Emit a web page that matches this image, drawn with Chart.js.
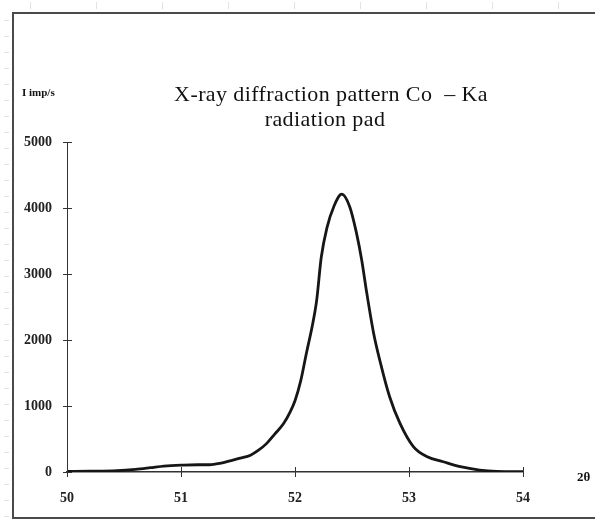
<!DOCTYPE html>
<html>
<head>
<meta charset="utf-8">
<script src="https://cdn.jsdelivr.net/npm/chart.js@4/dist/chart.umd.min.js"></script>
<style>
  body { margin: 0; background: #fff; }
  #wrap { width: 595px; height: 520px; }
</style>
</head>
<body>
<div id="wrap"><canvas id="xrd" width="595" height="520"></canvas></div>
<script>
// angles 2θ (deg) and intensity (imp/s)
var twoTheta = [50.00, 50.20, 50.44, 50.60, 50.73, 50.85, 51.02, 51.15, 51.25, 51.35, 51.43, 51.52, 51.61, 51.68, 51.75, 51.82, 51.90, 51.96, 52.00, 52.05, 52.10, 52.15, 52.19, 52.23, 52.28, 52.34, 52.41, 52.48, 52.54, 52.585, 52.63, 52.69, 52.75, 52.83, 52.92, 53.04, 53.16, 53.30, 53.45, 53.62, 53.77, 54.00];
var intensity = [10, 12, 20, 40, 65, 90, 105, 110, 110, 135, 170, 210, 255, 330, 430, 570, 735, 920, 1080, 1380, 1800, 2200, 2600, 3250, 3700, 4020, 4210, 4020, 3616, 3212, 2707, 2100, 1650, 1140, 740, 380, 230, 155, 80, 30, 10, 5];

var xTicks = [50, 51, 52, 53, 54];
var yTicks = [0, 1000, 2000, 3000, 4000, 5000];

var tituloLineas = ["X-ray diffraction pattern Co  \u2013 Ka", "radiation pad"];
var tituloEjeY = "I imp/s";
var tituloEjeX = "2\u03b8";

function armarPuntos(xs, ys) {
    var lista = [];
    for (var i = 0; i < xs.length; i++) {
        lista.push({ x: xs[i], y: ys[i] });
    }
    return lista;
}

// marco, titulo y marcas cruzadas de los ejes
var decoracion = {
    id: 'decoracion',
    beforeDraw: function (chart) {
        var ctx = chart.ctx;
        ctx.save();
        ctx.fillStyle = '#fff';
        ctx.fillRect(0, 0, chart.width, chart.height);
        // regla tenue
        ctx.strokeStyle = '#e2e2e2';
        ctx.lineWidth = 1;
        for (var x = 30; x < chart.width; x += 66) {
            ctx.beginPath(); ctx.moveTo(x + 0.5, 2); ctx.lineTo(x + 0.5, 9); ctx.stroke();
        }
        for (var y = 20; y < chart.height; y += 16) {
            ctx.beginPath(); ctx.moveTo(4, y + 0.5); ctx.lineTo(9, y + 0.5); ctx.stroke();
        }
        ctx.strokeStyle = '#4a4a4a';
        ctx.lineWidth = 2;
        ctx.strokeRect(13, 13, 620, 505);
        ctx.restore();
    },
    afterDraw: function (chart) {
        var ctx = chart.ctx;
        var sx = chart.scales.x, sy = chart.scales.y;
        ctx.save();
        ctx.strokeStyle = '#333';
        ctx.lineWidth = 1;
        yTicks.forEach(function (v) {
            var py = Math.round(sy.getPixelForValue(v)) + 0.5;
            ctx.beginPath(); ctx.moveTo(sx.left - 4, py); ctx.lineTo(sx.left + 5, py); ctx.stroke();
        });
        xTicks.forEach(function (v) {
            var px = Math.round(sx.getPixelForValue(v)) + 0.5;
            ctx.beginPath(); ctx.moveTo(px, sy.bottom - 5); ctx.lineTo(px, sy.bottom + 5); ctx.stroke();
        });
        ctx.fillStyle = '#111';
        ctx.textBaseline = 'middle';
        ctx.textAlign = 'center';
        ctx.font = '22px "Liberation Serif"';
        ctx.letterSpacing = '0.4px';
        ctx.fillText(tituloLineas[0], 331, 95);
        ctx.fillText(tituloLineas[1], 325, 120);
        ctx.letterSpacing = '0px';
        ctx.textAlign = 'left';
        ctx.font = 'bold 11px "Liberation Serif"';
        ctx.fillText(tituloEjeY, 22, 93);
        ctx.font = 'bold 13px "Liberation Serif"';
        ctx.fillText(tituloEjeX, 577, 478);
        ctx.restore();
    }
};

new Chart(document.getElementById("xrd"), {
    type: 'line',
    data: {
        datasets: [{
            data: armarPuntos(twoTheta, intensity),
            borderColor: "#161616",
            borderWidth: 2.8,
            pointRadius: 0,
            cubicInterpolationMode: 'monotone',
            fill: false
        }]
    },
    options: {
        responsive: false,
        animation: false,
        layout: { padding: { left: 0, right: 72, top: 142, bottom: 0 } },
        plugins: {
            legend: { display: false },
            tooltip: { enabled: false },
            title: { display: false }
        },
        scales: {
            x: {
                type: 'linear',
                min: 50,
                max: 54,
                afterFit: function (s) { s.height = 48; },
                afterBuildTicks: function (s) { s.ticks = xTicks.map(function (v) { return { value: v }; }); },
                grid: { display: false },
                border: { display: true, color: '#333', width: 1.5 },
                ticks: {
                    padding: 10,
                    color: '#222',
                    callback: function (v) { return String(v); },
                    font: { family: 'Liberation Serif', size: 14, weight: 'bold' }
                }
            },
            y: {
                min: 0,
                max: 5000,
                afterFit: function (s) { s.width = 67; },
                afterBuildTicks: function (s) { s.ticks = yTicks.map(function (v) { return { value: v }; }); },
                grid: { display: false },
                border: { display: true, color: '#333', width: 1 },
                ticks: {
                    padding: 7,
                    color: '#222',
                    callback: function (v) { return String(v); },
                    font: { family: 'Liberation Serif', size: 14, weight: 'bold' }
                }
            }
        }
    },
    plugins: [decoracion]
});
</script>
</body>
</html>
